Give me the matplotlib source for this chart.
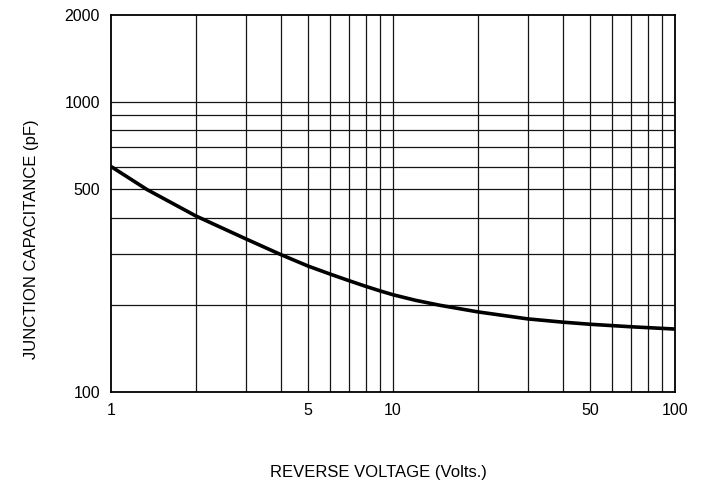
import matplotlib
matplotlib.use("Agg")
import matplotlib.pyplot as plt
from matplotlib.ticker import FixedLocator, NullFormatter, FixedFormatter

plt.rcParams['font.family'] = ['Liberation Sans', 'DejaVu Sans']

voltage = [1, 1.34, 2, 3, 4, 5, 6, 7, 8, 9, 10, 12, 14.7, 20, 30, 40, 50, 70, 100]
capacitance = [600, 500, 405, 338, 298, 272, 255, 242, 231.6, 223.3, 216.6, 207.3, 199.1,
               189, 178.8, 174.2, 171.3, 167.9, 164.9]

x_ticks = [1, 5, 10, 50, 100]
x_tick_labels = ['1', '5', '10', '50', '100']
y_ticks = [100, 500, 1000, 2000]
y_tick_labels = ['100', '500', '1000', '2000']
x_grid = [2, 3, 4, 5, 6, 7, 8, 9, 10, 20, 30, 40, 50, 60, 70, 80, 90]
y_grid = [200, 300, 400, 500, 600, 700, 800, 900, 1000]

fig = plt.figure(figsize=(7.02, 4.88), dpi=100)
ax = fig.add_axes([111/702, 1-392/488, 564/702, 377/488])
ax.set_xscale('log')
ax.set_yscale('log')
ax.set_xlim(1, 100)
ax.set_ylim(100, 2000)

for xv in x_grid:
    ax.axvline(xv, color='#151515', lw=0.9, zorder=1)
for yv in y_grid:
    ax.axhline(yv, color='#151515', lw=0.9, zorder=1)

ax.plot(voltage, capacitance, color='black', lw=2.6, zorder=3,
        solid_capstyle='butt', solid_joinstyle='round')

ax.xaxis.set_major_locator(FixedLocator(x_ticks))
ax.xaxis.set_major_formatter(FixedFormatter(x_tick_labels))
ax.xaxis.set_minor_locator(FixedLocator([]))
ax.xaxis.set_minor_formatter(NullFormatter())
ax.yaxis.set_major_locator(FixedLocator(y_ticks))
ax.yaxis.set_major_formatter(FixedFormatter(y_tick_labels))
ax.yaxis.set_minor_locator(FixedLocator([]))
ax.yaxis.set_minor_formatter(NullFormatter())
ax.tick_params(axis='both', which='both', length=0, labelsize=11.5, pad=8, colors='black')

for s in ax.spines.values():
    s.set_linewidth(1.3)
    s.set_color('black')

ax.set_xlabel('REVERSE VOLTAGE (Volts.)', fontsize=12)
ax.xaxis.set_label_coords((378-111)/564, (392-472)/377)
ax.xaxis.label.set_va('center')
ax.set_ylabel('JUNCTION CAPACITANCE (pF)', fontsize=12)
ax.yaxis.set_label_coords((32-111)/564, (392-239.5)/377)
ax.yaxis.label.set_va('center')

fig.savefig('out.png', dpi=100, facecolor='white')
